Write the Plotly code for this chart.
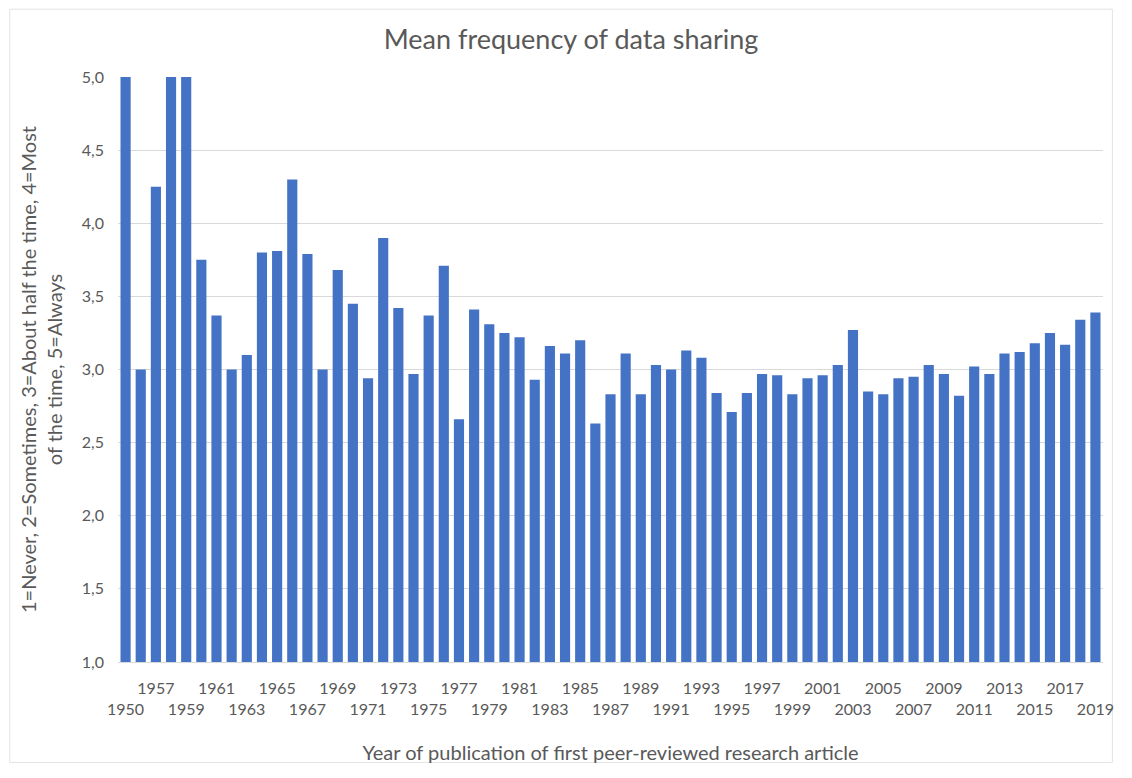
import plotly.graph_objects as go

years = [1950] + list(range(1956, 2020))
values = [
    5.00, 3.00, 4.25, 5.00, 5.00, 3.75, 3.37, 3.00, 3.10, 3.80,
    3.81, 4.30, 3.79, 3.00, 3.68, 3.45, 2.94, 3.90, 3.42, 2.97,
    3.37, 3.71, 2.66, 3.41, 3.31, 3.25, 3.22, 2.93, 3.16, 3.11,
    3.20, 2.63, 2.83, 3.11, 2.83, 3.03, 3.00, 3.13, 3.08, 2.84,
    2.71, 2.84, 2.97, 2.96, 2.83, 2.94, 2.96, 3.03, 3.27, 2.85,
    2.83, 2.94, 2.95, 3.03, 2.97, 2.82, 3.02, 2.97, 3.11, 3.12,
    3.18, 3.25, 3.17, 3.34, 3.39,
]
categories = [str(y) for y in years]
tick_years = categories[::2]
tick_labels = [("<br>" + t) if i % 2 == 0 else t for i, t in enumerate(tick_years)]
y_ticks = [1.0, 1.5, 2.0, 2.5, 3.0, 3.5, 4.0, 4.5, 5.0]

title_text = "Mean frequency of data sharing"
x_title = "Year of publication of first peer-reviewed research article"
y_title = "1=Never, 2=Sometimes, 3=About half the time, 4=Most<br>of the time, 5=Always"

txt = "#595959"
font_family = "Lato, 'Open Sans', sans-serif"

W, H = 1116, 762
ML, MR, MT, MB = 110, 10, 69, 102
PW, PH = W - ML - MR, H - MT - MB

fig = go.Figure(
    go.Bar(
        x=categories,
        y=values,
        marker=dict(color="#4472C4", line=dict(width=0)),
    )
)

fig.update_layout(
    width=W,
    height=H,
    paper_bgcolor="white",
    plot_bgcolor="white",
    margin=dict(l=ML, r=MR, t=MT, b=MB),
    separators=",.",
    bargap=0.33,
    showlegend=False,
    font=dict(family=font_family, color=txt, size=16),
    title=dict(
        text=title_text,
        x=(571 - 8) / W,
        xanchor="center",
        xref="container",
        y=1 - 32 / H,
        yanchor="middle",
        yref="container",
        font=dict(size=27, color=txt, family=font_family),
    ),
    shapes=[
        dict(
            type="rect",
            xref="paper",
            yref="paper",
            x0=-(ML - 0.5) / PW,
            x1=1 + (MR - 0.5) / PW,
            y0=-(MB - 0.5) / PH,
            y1=1 + (MT - 0.5) / PH,
            line=dict(color="#E3E3E3", width=1),
            layer="below",
        )
    ],
)

fig.update_xaxes(
    type="category",
    tickmode="array",
    tickvals=tick_years,
    ticktext=tick_labels,
    tickangle=0,
    showgrid=False,
    showline=True,
    linecolor="#D9D9D9",
    linewidth=1,
    ticks="",
    tickfont=dict(size=16, color=txt),
    ticklabelstandoff=12,
    title=dict(text=x_title, font=dict(size=20, color=txt), standoff=28),
)

fig.update_yaxes(
    range=[1, 5],
    tickmode="array",
    tickvals=y_ticks,
    tickformat=".1f",
    showgrid=True,
    gridcolor="#D9D9D9",
    gridwidth=1,
    zeroline=False,
    showline=False,
    ticks="",
    tickfont=dict(size=16, color=txt),
    ticklabelstandoff=13,
    title=dict(text=y_title, font=dict(size=20, color=txt), standoff=13),
)

fig.write_html("out.html")
